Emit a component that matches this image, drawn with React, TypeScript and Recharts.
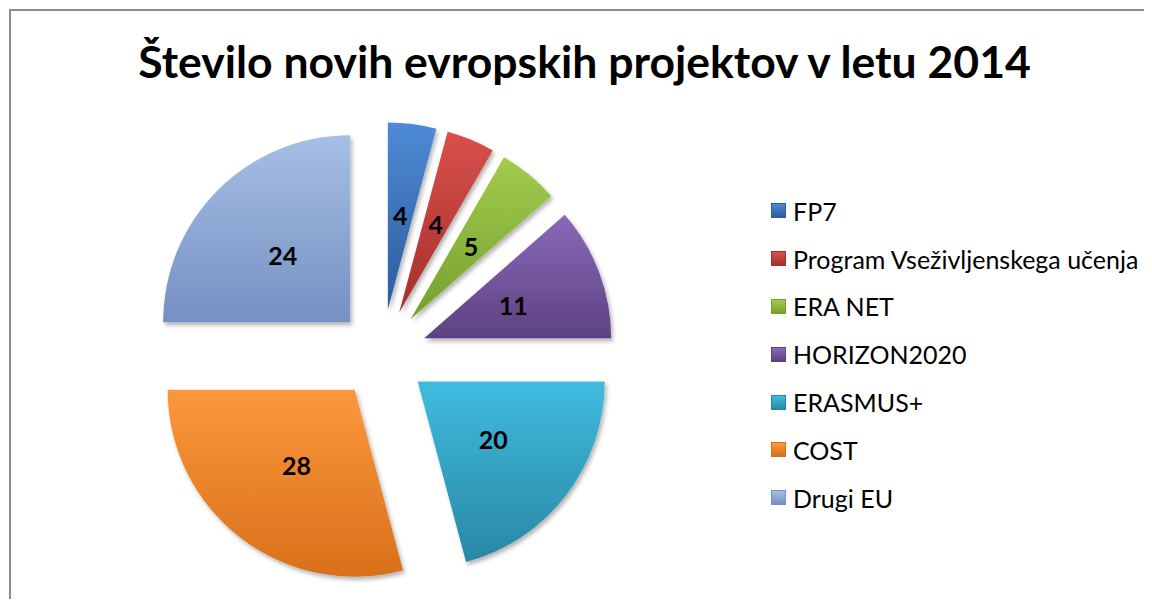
import React from "react";
import { PieChart, Pie, Cell, Sector, Legend } from "recharts";

const categories = [
  "FP7",
  "Program Vseživljenskega učenja",
  "ERA NET",
  "HORIZON2020",
  "ERASMUS+",
  "COST",
  "Drugi EU",
];
const projects = [4, 4, 5, 11, 20, 28, 24];

// [light, dark] per slice
const colors = [
  ["#4f8ad6", "#2c5c9c"],
  ["#d9504b", "#a3302d"],
  ["#a3cb4e", "#76a02e"],
  ["#8a69b8", "#5c4282"],
  ["#40bbdf", "#2888a4"],
  ["#fc983c", "#d8701a"],
  ["#a6bfe6", "#7590c2"],
];

const RADIAN = Math.PI / 180;
const explode = 45;

const renderSlice = (props: any) => {
  const { cx, cy, midAngle } = props;
  const dx = explode * Math.cos(-midAngle * RADIAN);
  const dy = explode * Math.sin(-midAngle * RADIAN);
  return <Sector {...props} cx={cx + dx} cy={cy + dy} filter="url(#sliceShadow)" />;
};

const renderLabel = (props: any) => {
  const { cx, cy, midAngle, outerRadius, value } = props;
  const r = outerRadius * 0.75;
  const x = cx + r * Math.cos(-midAngle * RADIAN);
  const y = cy + r * Math.sin(-midAngle * RADIAN);
  return (
    <text
      x={x}
      y={y}
      fill="#000"
      textAnchor="middle"
      dominantBaseline="central"
      fontFamily="Lato"
      fontWeight="bold"
      fontSize={25}
    >
      {value}
    </text>
  );
};

const renderLegend = () => {
  return (
    <div>
      {categories.map((name, i) => (
        <div
          key={`leg-${i}`}
          style={{ display: "flex", alignItems: "center", height: 47.8 }}
        >
          <div
            style={{
              width: 13,
              height: 13,
              marginRight: 7,
              border: `1px solid ${colors[i][1]}`,
              background: `linear-gradient(${colors[i][0]}, ${colors[i][1]})`,
            }}
          />
          <span style={{ fontFamily: "Lato", fontSize: 25, color: "#000" }}>
            {name}
          </span>
        </div>
      ))}
    </div>
  );
};

const App = () => {
  const data = [];
  for (let i = 0; i < categories.length; i++) {
    data.push({ name: categories[i], value: projects[i] });
  }

  return (
    <>
      <style>{"html, body { overflow: hidden; }"}</style>
      <div
        style={{
          position: "relative",
          marginLeft: 1,
          marginTop: 1,
          width: 1170,
          height: 588,
          overflow: "hidden",
          borderLeft: "2px solid #8c8c8c",
          borderTop: "2px solid #8c8c8c",
        }}
      >
        <div
          style={{
            position: "absolute",
            left: 0,
            top: 23,
            width: 1147,
            textAlign: "center",
            fontFamily: "Lato",
            fontWeight: "bold",
            fontSize: 44.5,
            color: "#000",
            zIndex: 2,
          }}
        >
          Število novih evropskih projektov v letu 2014
        </div>
        <PieChart
          width={1170}
          height={588}
          margin={{ top: 0, right: 0, bottom: 0, left: 0 }}
        >
          <defs>
            {colors.map((c, i) => (
              <linearGradient key={`g-${i}`} id={`grad${i}`} x1="0" y1="0" x2="0" y2="1">
                <stop offset="0%" stopColor={c[0]} />
                <stop offset="100%" stopColor={c[1]} />
              </linearGradient>
            ))}
            <filter id="sliceShadow" x="-20%" y="-20%" width="140%" height="140%">
              <feDropShadow dx="2" dy="3" stdDeviation="2" floodColor="#000" floodOpacity="0.3" />
            </filter>
          </defs>
          <Legend
            layout="vertical"
            verticalAlign="middle"
            align="right"
            content={renderLegend}
            wrapperStyle={{ left: 760, top: 176, width: 390 }}
          />
          <Pie
            data={data}
            cx={371}
            cy={343}
            startAngle={90}
            endAngle={-270}
            outerRadius={187}
            dataKey="value"
            isAnimationActive={false}
            stroke="none"
            shape={renderSlice}
            label={renderLabel}
            labelLine={false}
          >
            {data.map((entry, index) => (
              <Cell key={`cell-${index}`} fill={`url(#grad${index})`} />
            ))}
          </Pie>
        </PieChart>
      </div>
    </>
  );
};

export default App;
